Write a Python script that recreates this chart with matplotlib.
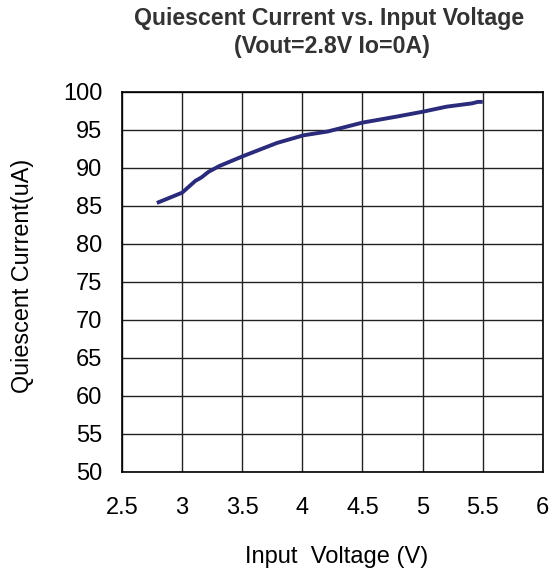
import numpy as np
import matplotlib
matplotlib.use('Agg')
from matplotlib import pyplot as plt

plt.rcParams['font.family'] = ['Liberation Sans', 'DejaVu Sans']

# Input voltage (V) vs quiescent current (uA)
vin = [2.79, 3.0, 3.11, 3.16, 3.22, 3.31, 3.51, 3.79, 4.01, 4.21, 4.50, 4.78, 5.0, 5.2, 5.41, 5.46, 5.5]
iq = [85.4, 86.75, 88.3, 88.75, 89.5, 90.26, 91.58, 93.3, 94.3, 94.8, 95.97, 96.75, 97.4, 98.07, 98.5, 98.7, 98.7]

x_ticks = [2.5, 3, 3.5, 4, 4.5, 5, 5.5, 6]
x_labels = ['2.5', '3', '3.5', '4', '4.5', '5', '5.5', '6']
y_ticks = list(range(50, 101, 5))

fig = plt.figure(figsize=(5.5, 5.76), dpi=100)
ax = fig.add_axes([0.2218, 0.1806, 0.7652, 0.6597])
ax.plot(vin, iq, color='#2b2b7c', lw=2.8, solid_capstyle='butt')

ax.set_xlim(2.5, 6)
ax.set_ylim(50, 100)
ax.set_xticks(x_ticks)
ax.set_xticklabels(x_labels)
ax.set_yticks(y_ticks)
ax.grid(True, color='#222222', lw=1)
ax.tick_params(length=0, labelsize=17)
ax.tick_params(axis='y', pad=14)
ax.tick_params(axis='x', pad=18)
for s in ax.spines.values():
    s.set_linewidth(1.2)

ax.set_xlabel('Input  Voltage (V)', fontsize=17, va='center')
ax.xaxis.set_label_coords(0.511, -0.225)
ax.set_ylabel('Quiescent Current(uA)', fontsize=16.8, va='center')
ax.yaxis.set_label_coords(-0.2375, 0.516)

fig.text(0.598, 0.968, 'Quiescent Current vs. Input Voltage', ha='center', va='center',
         fontsize=16.7, fontweight='bold', color='#333333')
fig.text(0.603, 0.919, '(Vout=2.8V Io=0A)', ha='center', va='center',
         fontsize=16.7, fontweight='bold', color='#333333')

fig.savefig('out.png', dpi=100)
